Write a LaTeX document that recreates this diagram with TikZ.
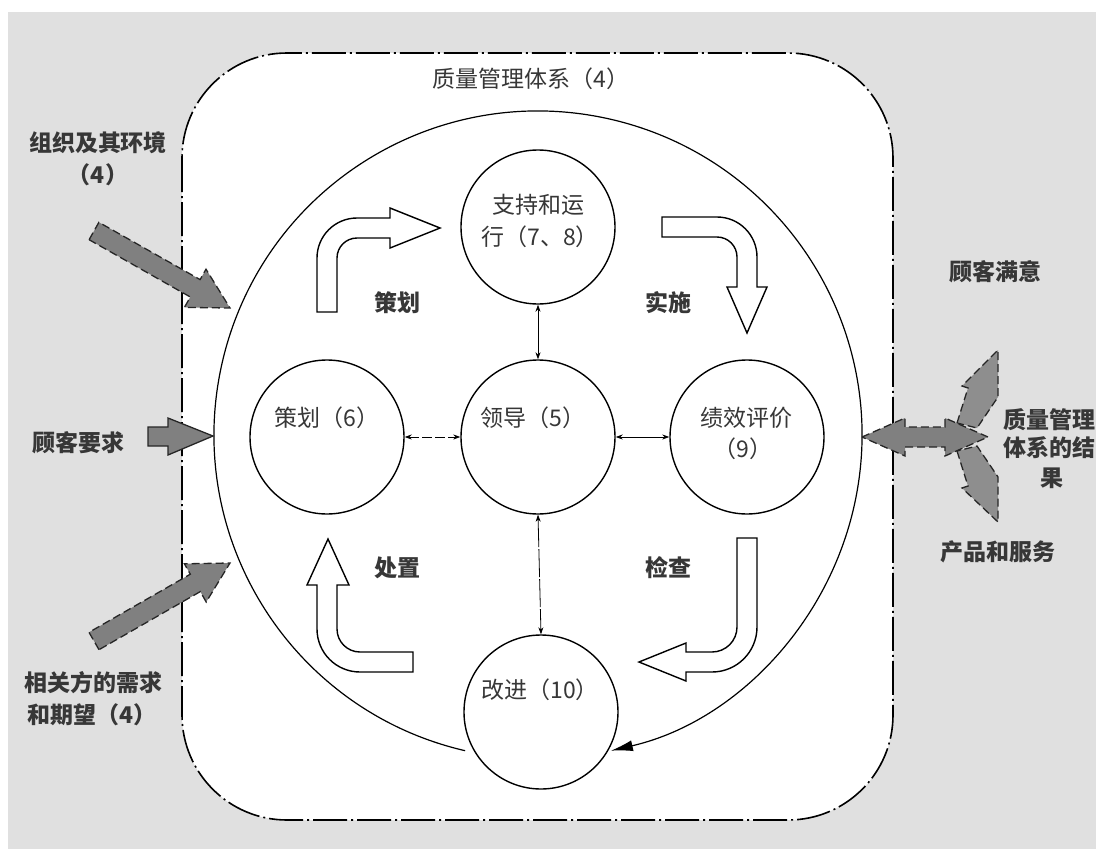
\documentclass[tikz,border=0pt]{standalone}
\usepackage{fontspec}
\setmainfont{Noto Sans CJK SC}
\usetikzlibrary{arrows.meta,calc}
\definecolor{bggray}{RGB}{224,224,224}
\definecolor{agray}{RGB}{128,128,128}
\definecolor{bgray}{RGB}{142,142,142}
\definecolor{txt}{RGB}{55,55,55}
\tikzset{
  lbl/.style={font=\fontsize{23}{27}\selectfont, text=txt, inner sep=0pt},
  blbl/.style={font=\fontsize{23}{27}\selectfont\bfseries, text=txt, inner sep=0pt},
  proc/.style={circle, draw, line width=1.4pt, minimum size=154pt, inner sep=0pt},
  link/.style={{Stealth[length=7pt,width=5pt]}-{Stealth[length=7pt,width=5pt]}, line width=0.8pt},
  hollow/.style={draw, fill=white, line width=1.4pt, line join=miter},
  gin/.style={draw=black!85, fill=agray, line width=1.3pt, dash pattern=on 8pt off 4pt},
  sysbox/.style={draw, fill=white, line width=1.6pt, rounded corners=105pt, dash pattern=on 34pt off 4pt on 2pt off 4pt}
}
\begin{document}
\begin{tikzpicture}[x=1pt,y=-1pt]
\useasboundingbox (0,0) rectangle (1096,849);
\fill[bggray] (8,12) rectangle (1096,849);
% system box
\draw[sysbox] (182,53) rectangle (893,820);
\node[lbl] (qms) at (531,79) {质量管理体系（4）};

% process circles
\node[proc] (sup) at (538,227) {};
\node[proc] (plan) at (327,437) {};
\node[proc] (lead) at (538,437) {};
\node[proc] (perf) at (747,437) {};
\node[proc] (impr) at (541,712) {};
\node[lbl] (supt1) at (538,205) {支持和运};
\node[lbl] (supt2) at (540,237) {行（7、8）};
\node[lbl] (plant) at (327,418) {策划（6）};
\node[lbl] (leadt) at (533,418) {领导（5）};
\node[lbl] (perft1) at (746,418) {绩效评价};
\node[lbl] (perft2) at (743,449) {（9）};
\node[lbl] (imprt) at (540,690) {改进（10）};

% links
\draw[link] (sup.south) -- (lead.north);
\draw[link, dash pattern=on 10pt off 3pt] (plan.east) -- (lead.west);
\draw[link] (lead.east) -- (perf.west);
\draw[link, dash pattern=on 28pt off 2pt] (lead.south) -- (impr.north);

% big cycle arc
\coordinate (bigc) at (538,435);
\draw[line width=1.2pt, -{Latex[length=22pt,width=11pt]}] ($(bigc)+(257:324pt)$) arc[start angle=257, end angle=-77, radius=324pt];

% hollow PDCA arrows
\draw[hollow] (317,312) -- (317,258) arc[start angle=180,end angle=90,radius=40pt] -- (390,218) -- (390,208) -- (440,228) -- (390,248) -- (390,238) -- (357,238) arc[start angle=90,end angle=180,radius=20pt] -- (337,312) -- cycle;
\draw[hollow] (662,217) -- (717,217) arc[start angle=90,end angle=0,radius=40pt] -- (757,287) -- (767,287) -- (747,333) -- (727,287) -- (737,287) -- (737,257) arc[start angle=0,end angle=90,radius=20pt] -- (662,237) -- cycle;
\draw[hollow] (737,538) -- (757,538) -- (757,627) arc[start angle=0,end angle=-90,radius=45pt] -- (686,672) -- (686,681) -- (639,662) -- (686,643) -- (686,652) -- (712,652) arc[start angle=-90,end angle=0,radius=25pt] -- cycle;
\draw[hollow] (413,652) -- (413,672) -- (360,672) arc[start angle=-90,end angle=-180,radius=43pt] -- (317,585) -- (307,585) -- (328,539) -- (349,585) -- (337,585) -- (337,629) arc[start angle=180,end angle=270,radius=23pt] -- cycle;

\node[blbl] (pl) at (397,303) {策划};
\node[blbl] (do) at (668,303) {实施};
\node[blbl] (act) at (397,568) {处置};
\node[blbl] (chk) at (668,568) {检查};

% input arrows
\draw[gin] (89.1,239.7) -- (98.9,222.3) -- (200.1,279.6) -- (206.0,269.2) -- (230,308) -- (184.4,307.4) -- (190.3,297.0) -- cycle;
\draw[gin] (99.0,649.7) -- (89.0,632.3) -- (190.3,574.2) -- (184.4,563.8) -- (230,563) -- (206.2,602.0) -- (200.3,591.6) -- cycle;
\draw[draw=black!85, fill=agray, line width=1.3pt] (148,427) -- (168,427) -- (168,418) -- (213,436) -- (168,455) -- (168,446) -- (148,446) -- cycle;

% output arrows
\draw[gin, fill=bgray] (957,423) -- (968,388) -- (962,386) -- (998,350) -- (998,397) -- (977,428) -- cycle;
\draw[gin, fill=bgray] (957,451) -- (968,486) -- (962,488) -- (998,522) -- (998,477) -- (977,446) -- cycle;
\draw[gin] (862,437) -- (905,418) -- (905,427) -- (945,427) -- (945,418) -- (988,437) -- (945,456) -- (945,447) -- (905,447) -- (905,456) -- cycle;

% outside labels
\node[blbl] (org1) at (98,143) {组织及其环境};
\node[blbl] (org2) at (98,175) {（4）};
\node[blbl] (cust) at (78,443) {顾客要求};
\node[blbl] (int1) at (93,683) {相关方的需求};
\node[blbl] (int2) at (92,715) {和期望（4）};
\node[blbl] (sat) at (995,272) {顾客满意};
\node[blbl, anchor=west] (res1) at (1003,420) {质量管理};
\node[blbl, anchor=west] (res2) at (1003,448) {体系的结};
\node[blbl] (res3) at (1052,478) {果};
\node[blbl] (prod) at (998,552) {产品和服务};
\end{tikzpicture}
\end{document}
